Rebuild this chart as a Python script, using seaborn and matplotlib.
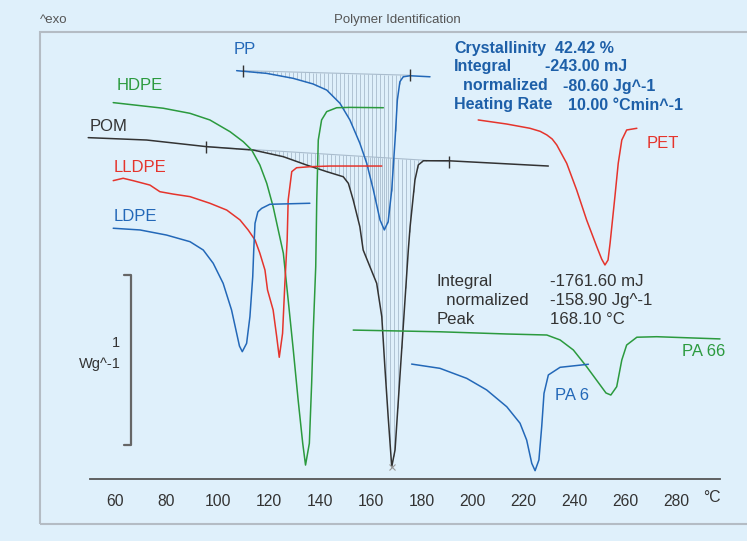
import numpy as np
import seaborn as sns
import matplotlib
matplotlib.use("Agg")
from matplotlib import pyplot as plt
from matplotlib.patches import Rectangle

# DSC curves: temperature (°C) and heat flow (W/g, 0 = axis line)
pp_t = [107.5, 119.3, 129.6, 137.4, 142.8, 148.0, 151.9, 155.8, 158.5, 161.1,
        163.7, 165.4, 166.9, 168.3, 169.6, 170.5, 171.5, 172.8, 175.5, 183.3]
pp_hf = [2.402, 2.386, 2.357, 2.324, 2.288, 2.210, 2.112, 1.975, 1.857, 1.700,
         1.524, 1.465, 1.514, 1.700, 1.994, 2.229, 2.337, 2.366, 2.372, 2.366]

pom_t = [49.3, 72.2, 95.7, 114.0, 125.8, 134.9, 142.8, 149.3, 151.3, 153.2,
         155.8, 157.1, 162.4, 164.4, 165.6, 166.9, 168.3, 169.6, 170.9, 172.2,
         173.5, 174.8, 175.5, 177.4, 178.7, 180.7, 184.6, 190.5, 229.7]
pom_hf = [2.008, 1.994, 1.955, 1.935, 1.896, 1.847, 1.808, 1.778, 1.739, 1.641,
          1.484, 1.347, 1.151, 0.955, 0.661, 0.366, 0.072, 0.171, 0.465, 0.759,
          1.053, 1.347, 1.484, 1.759, 1.847, 1.872, 1.872, 1.872, 1.841]

hdpe_t = [59.1, 78.7, 89.2, 97.0, 104.9, 110.1, 113.4, 116.6, 119.3, 121.8,
          123.8, 125.8, 127.7, 129.7, 131.6, 133.4, 134.5, 136.0, 136.9, 137.5,
          138.5, 138.9, 139.5, 140.8, 142.8, 146.7, 151.9, 165.0]
hdpe_hf = [2.214, 2.181, 2.151, 2.112, 2.043, 1.984, 1.935, 1.847, 1.739, 1.602,
           1.465, 1.328, 1.053, 0.759, 0.465, 0.210, 0.082, 0.210, 0.563, 0.857,
           1.249, 1.641, 1.994, 2.112, 2.161, 2.184, 2.186, 2.184]

lldpe_t = [59.1, 63.0, 66.9, 73.5, 77.4, 82.6, 89.2, 97.0, 103.6, 108.8,
           112.0, 114.7, 116.6, 118.6, 119.6, 121.8, 123.2, 124.2, 125.5, 126.4,
           127.3, 127.7, 129.1, 131.0, 136.2, 144.1, 164.4]
lldpe_hf = [1.755, 1.769, 1.755, 1.729, 1.690, 1.676, 1.661, 1.622, 1.582, 1.524,
            1.465, 1.406, 1.328, 1.229, 1.112, 0.994, 0.837, 0.716, 0.857, 1.151,
            1.406, 1.641, 1.808, 1.831, 1.837, 1.841, 1.841]

ldpe_t = [59.1, 69.6, 80.0, 89.2, 94.4, 98.3, 102.2, 105.5, 107.5, 108.6,
          109.7, 111.4, 112.7, 113.8, 114.2, 114.7, 115.8, 117.3, 120.5, 136.2]
ldpe_hf = [1.475, 1.465, 1.435, 1.396, 1.347, 1.269, 1.151, 0.994, 0.857, 0.782,
           0.749, 0.798, 0.955, 1.190, 1.347, 1.504, 1.571, 1.592, 1.616, 1.622]

pet_t = [202.2, 213.4, 222.5, 226.5, 229.1, 231.2, 233.0, 236.9, 240.8, 244.7,
         248.7, 250.6, 251.9, 253.1, 253.9, 255.8, 257.1, 258.5, 260.4, 264.4]
pet_hf = [2.112, 2.088, 2.063, 2.045, 2.024, 2.000, 1.965, 1.857, 1.700, 1.524,
          1.366, 1.294, 1.259, 1.288, 1.386, 1.661, 1.857, 1.994, 2.053, 2.063]

pa66_t = [153.2, 187.2, 213.4, 229.1, 234.3, 239.5, 244.7, 250.0, 252.3, 254.2,
          256.5, 258.5, 260.4, 264.4, 272.2, 297.0]
pa66_hf = [0.876, 0.866, 0.853, 0.847, 0.818, 0.759, 0.661, 0.553, 0.506, 0.494,
           0.543, 0.700, 0.788, 0.834, 0.837, 0.824]

pa6_t = [176.1, 187.2, 197.7, 205.5, 213.4, 218.6, 221.2, 223.2, 224.5, 226.0,
         227.1, 228.0, 229.7, 234.3, 245.4]
pa6_hf = [0.676, 0.651, 0.592, 0.524, 0.425, 0.328, 0.229, 0.092, 0.049, 0.112,
          0.308, 0.504, 0.612, 0.657, 0.675]

# integration baselines (start, end)
pp_base_t = [110.1, 175.5]
pp_base_hf = [2.402, 2.375]
pom_base_t = [95.5, 190.9]
pom_base_hf = [1.955, 1.866]

blue_info = [("Crystallinity", "42.42 %"), ("Integral", "-243.00 mJ"),
             ("  normalized", "-80.60 Jg^-1"), ("Heating Rate", "10.00 °Cmin^-1")]
black_info = [("Integral", "-1761.60 mJ"), ("  normalized", "-158.90 Jg^-1"),
              ("Peak", "168.10 °C")]

BLUE = "#2368b8"
GREEN = "#2b9a3e"
RED = "#e5342c"
BLACK = "#333333"
BG = "#dff0fb"

sns.set_theme(style="white")
plt.rcParams["font.family"] = ["Liberation Sans", "DejaVu Sans"]

W, H = 747, 541
fig = plt.figure(figsize=(W / 100, H / 100), dpi=100, facecolor=BG)
ax = fig.add_axes([90 / W, (H - 479) / H, 630 / W, 444 / H])
ax.set_facecolor("none")


def px(x, y):
    return x / W, 1 - y / H


# frame
fig.patches.append(Rectangle(px(40, 524), (750 - 40) / W, (524 - 32) / H,
                             transform=fig.transFigure, fill=False,
                             edgecolor="#b4bcc4", lw=1.5))

# hatching of integrated areas
for bt, bh, ct, ch in [(pp_base_t, pp_base_hf, pp_t, pp_hf),
                       (pom_base_t, pom_base_hf, pom_t, pom_hf)]:
    xs = np.arange(bt[0] + 0.8, bt[1], 1.55)
    top = np.interp(xs, bt, bh)
    bot = np.interp(xs, ct, ch)
    m = bot < top
    ax.vlines(xs[m], bot[m], top[m], color="#a9bccd", lw=0.6, zorder=1)
    ax.plot(bt, bh, color="#a9bccd", lw=0.8, zorder=1)
    ax.plot(bt, bh, ls="none", marker="|", ms=9, mew=1.0, color=BLACK, zorder=4)

curves = [(pp_t, pp_hf, BLUE), (pom_t, pom_hf, BLACK), (hdpe_t, hdpe_hf, GREEN),
          (lldpe_t, lldpe_hf, RED), (ldpe_t, ldpe_hf, BLUE), (pet_t, pet_hf, RED),
          (pa66_t, pa66_hf, GREEN), (pa6_t, pa6_hf, BLUE)]
for t, hf, c in curves:
    sns.lineplot(x=t, y=hf, color=c, lw=1.1, ax=ax, sort=False, estimator=None)
for line in ax.lines:
    line.set_clip_on(False)
ax.plot([168.3], [0.072], marker="x", ms=4, color="#999999", mew=0.8)

labels = [("PP", 106.2, 2.524, BLUE), ("HDPE", 60.4, 2.312, GREEN),
          ("POM", 50.0, 2.072, BLACK), ("LLDPE", 59.1, 1.834, RED),
          ("LDPE", 59.1, 1.547, BLUE), ("PET", 268.3, 1.975, RED),
          ("PA 66", 282.0, 0.749, GREEN), ("PA 6", 232.3, 0.494, BLUE)]
for txt, x, y, c in labels:
    ax.text(x, y, txt, color=c, fontsize=12, va="center", ha="left")

# scale bar 1 W/g
ax.plot([63.4, 66.0, 66.0, 63.4], [1.2, 1.2, 0.2, 0.2], color="#666666", lw=1.6,
        clip_on=False)
ax.text(61.9, 0.80, "1", ha="right", va="center", fontsize=10.5, color=BLACK)
ax.text(62.2, 0.675, "Wg^-1", ha="right", va="center", fontsize=10.5, color=BLACK)

ax.set_xlim(50, 297)
ax.set_ylim(0, 444 / 170)
ax.set_xticks(np.arange(60, 281, 20))
ax.set_xticks(np.arange(50, 291, 10), minor=True)
ax.tick_params(axis="x", which="major", length=5, width=1, color="#555555",
               labelsize=11.3, labelcolor=BLACK, pad=6, direction="out")
ax.tick_params(axis="x", which="minor", length=3, width=1, color="#555555",
               direction="out")
ax.set_yticks([])
for s in ["left", "right", "top"]:
    ax.spines[s].set_visible(False)
ax.spines["bottom"].set_color("#555555")
ax.spines["bottom"].set_linewidth(1.3)
fig.text(*px(712, 498), "°C", ha="center", va="center", fontsize=11.3, color=BLACK)

# text blocks
for i, (a, b) in enumerate(blue_info):
    y = [48.3, 66.5, 86, 105][i]
    fig.text(*px(454.3, y), a, color="#1d5fa8", fontsize=11.5, weight="bold",
             va="center")
    fig.text(*px([555, 545, 563.3, 568.3][i], y), b, color="#1d5fa8",
             fontsize=11.5, weight="bold", va="center")
for i, (a, b) in enumerate(black_info):
    y = [281.7, 300.7, 319.3][i]
    fig.text(*px(436.7, y), a, color=BLACK, fontsize=12.1, va="center")
    fig.text(*px(550, y), b, color=BLACK, fontsize=12.1, va="center")

fig.text(*px(40, 20), "^exo", fontsize=9.5, color="#555555", va="center")
fig.text(*px(397, 20), "Polymer Identification", fontsize=9.5, color="#555555",
         va="center", ha="center")

fig.savefig("out.png", dpi=100, facecolor=BG)
